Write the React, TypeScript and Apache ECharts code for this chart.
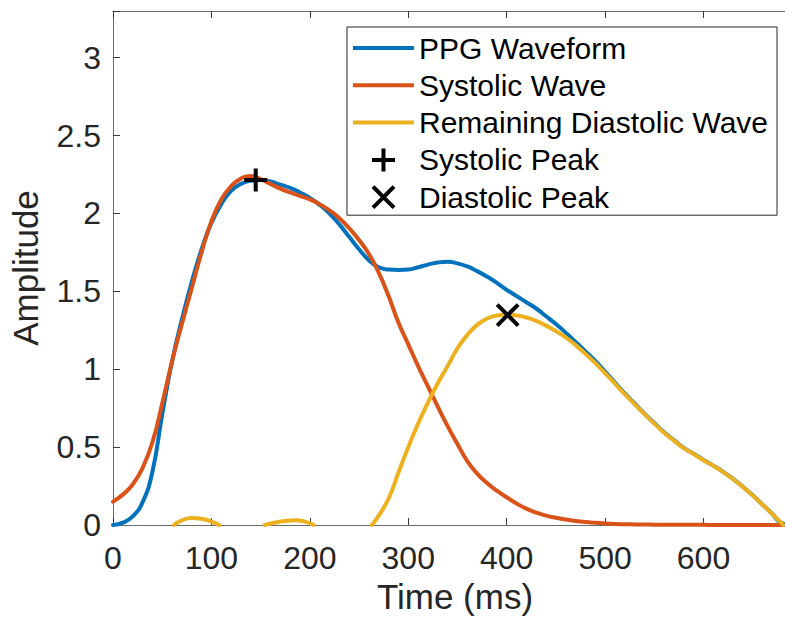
import React, { useEffect, useRef } from "react";
import * as echarts from "echarts";

// ---- data ----
const timeMs = [
  0, 10, 20, 30, 40, 50, 60, 70, 80, 90, 100, 110, 120, 130, 140, 150, 160, 170, 180, 190,
  200, 210, 220, 230, 240, 250, 260, 270, 280, 290, 300, 310, 320, 330, 340, 350, 360, 370, 380, 390,
  400, 410, 420, 430, 440, 450, 460, 470, 480, 490, 500, 510, 520, 530, 540, 550, 560, 570, 580, 590,
  600, 610, 620, 630, 640, 650, 660, 670, 680, 690, 700,
];

const ppgWaveform = [
  0.0, 0.015, 0.055, 0.145, 0.34, 0.71, 1.05, 1.32, 1.56, 1.77, 1.94, 2.06, 2.145, 2.19, 2.21, 2.215, 2.205, 2.185, 2.165, 2.135,
  2.1, 2.055, 2.0, 1.93, 1.85, 1.77, 1.7, 1.655, 1.64, 1.637, 1.64, 1.655, 1.672, 1.685, 1.69, 1.68, 1.66, 1.63, 1.595, 1.555,
  1.51, 1.47, 1.43, 1.39, 1.34, 1.29, 1.235, 1.175, 1.115, 1.053, 0.985, 0.915, 0.845, 0.78, 0.715, 0.655, 0.595, 0.545, 0.495, 0.458,
  0.418, 0.381, 0.341, 0.296, 0.246, 0.191, 0.131, 0.071, 0.01, 0.0, 0.0,
];

const systolicWave = [
  0.15, 0.195, 0.26, 0.365, 0.53, 0.78, 1.05, 1.29, 1.52, 1.75, 1.95, 2.09, 2.175, 2.225, 2.24, 2.22, 2.19, 2.16, 2.135, 2.113,
  2.09, 2.06, 2.02, 1.97, 1.905, 1.83, 1.74, 1.62, 1.47, 1.3, 1.16, 1.02, 0.89, 0.76, 0.635, 0.52, 0.41, 0.33, 0.27, 0.22,
  0.178, 0.138, 0.105, 0.08, 0.06, 0.046, 0.035, 0.026, 0.019, 0.014, 0.01, 0.007, 0.005, 0.004, 0.003, 0.002, 0.002, 0.001, 0.001, 0.001,
  0.001, 0, 0, 0, 0, 0, 0, 0, 0, 0, 0,
];

// remaining diastolic wave: only the parts >= 0 are visible (three pieces)
const diastolicTime1 = [62, 70, 80, 90, 100, 108];
const diastolicValue1 = [0, 0.03, 0.045, 0.04, 0.022, 0];
const diastolicTime2 = [154, 165, 175, 185, 195, 204];
const diastolicValue2 = [0, 0.016, 0.026, 0.03, 0.022, 0];
const diastolicTime3 = [
  263, 270, 280, 290, 300, 310, 320, 330, 340, 350, 360, 370, 380, 390, 400, 410, 420, 430, 440, 450,
  460, 470, 480, 490, 500, 510, 520, 530, 540, 550, 560, 570, 580, 590, 600, 610, 620, 630, 640, 650,
  660, 670, 681,
];
const diastolicValue3 = [
  0, 0.06, 0.17, 0.335, 0.5, 0.65, 0.785, 0.91, 1.02, 1.135, 1.22, 1.285, 1.325, 1.345, 1.35, 1.345, 1.332, 1.31, 1.28, 1.245,
  1.205, 1.155, 1.1, 1.04, 0.975, 0.908, 0.84, 0.776, 0.712, 0.652, 0.592, 0.542, 0.493, 0.456, 0.416, 0.38, 0.34, 0.295, 0.245, 0.19,
  0.13, 0.07, 0,
];

const systolicPeak = [145, 2.215];
const diastolicPeak = [401, 1.348];

const seriesNames = [
  "PPG Waveform",
  "Systolic Wave",
  "Remaining Diastolic Wave",
  "Systolic Peak",
  "Diastolic Peak",
];
const seriesColors = ["#0072BD", "#D95319", "#EDB120", "#000000", "#000000"];

const xMin = 0;
const xMax = 695;
const xInterval = 100;
const yMin = 0;
const yMax = 3.3;
const yInterval = 0.5;

const FONT = "'Liberation Sans', Arial, Helvetica, sans-serif";

// marker shapes (30x30 frame, padded via move-to corners)
const PLUS_PATH =
  "path://M0,0 M30,30 M13,3.5 H17 V13 H26.5 V17 H17 V26.5 H13 V17 H3.5 V13 H13 Z";
const CROSS_PATH =
  "path://M0,0 M30,30 M5.91,3.09 L15,12.17 L24.09,3.09 L26.91,5.91 L17.83,15 L26.91,24.09 L24.09,26.91 L15,17.83 L5.91,26.91 L3.09,24.09 L12.17,15 L3.09,5.91 Z";
// legend line sample (61x30 frame)
const LINE_ICON = "path://M0,0 M61,30 M0,13 H61 V17 H0 Z";

function pairs(xs: number[], ys: number[]) {
  return xs.map((x, i) => [x, ys[i]]);
}

export default function App() {
  const ref = useRef<HTMLDivElement>(null);

  useEffect(() => {
    if (!ref.current) return;
    const chart = echarts.init(ref.current, undefined, { renderer: "svg" });

    const diastolicData: any[] = [
      ...pairs(diastolicTime1, diastolicValue1),
      [diastolicTime1[diastolicTime1.length - 1] + 1, null],
      ...pairs(diastolicTime2, diastolicValue2),
      [diastolicTime2[diastolicTime2.length - 1] + 1, null],
      ...pairs(diastolicTime3, diastolicValue3),
    ];

    const axisLineStyle = { color: "#6a6a6a", width: 1 };
    const tickStyle = { color: "#3a3a3a", width: 1 };

    const lineSeries = (i: number, data: any[], z: number) => ({
      name: seriesNames[i],
      type: "line",
      data,
      symbol: "none",
      showSymbol: false,
      connectNulls: false,
      smooth: 0.5,
      clip: true,
      lineStyle: { color: seriesColors[i], width: 4, cap: "round", join: "round" },
      itemStyle: { color: seriesColors[i] },
      z,
    });

    const option: any = {
      animation: false,
      backgroundColor: "#ffffff",
      textStyle: { fontFamily: FONT },
      grid: { left: 112, right: 3, top: 11, bottom: 97, containLabel: false },
      legend: {
        orient: "vertical",
        right: 23,
        top: 27,
        itemWidth: 61,
        itemHeight: 30,
        itemGap: 7.3,
        padding: [6, 9, 3, 6],
        backgroundColor: "#ffffff",
        borderColor: "#262626",
        borderWidth: 1,
        borderRadius: 0,
        selectedMode: false,
        textStyle: { fontSize: 30, color: "#000000", fontFamily: FONT, lineHeight: 30 },
        data: [
          { name: seriesNames[0], icon: LINE_ICON },
          { name: seriesNames[1], icon: LINE_ICON },
          { name: seriesNames[2], icon: LINE_ICON },
          { name: seriesNames[3], icon: PLUS_PATH },
          { name: seriesNames[4], icon: CROSS_PATH },
        ],
      },
      xAxis: [
        {
          type: "value",
          position: "bottom",
          min: xMin,
          max: xMax,
          interval: xInterval,
          axisLine: { show: true, onZero: false, lineStyle: axisLineStyle },
          axisTick: { show: true, inside: true, length: 7, lineStyle: tickStyle },
          axisLabel: {
            fontSize: 32,
            color: "#262626",
            fontFamily: FONT,
            margin: 17,
            formatter: (v: number) => (v > 690 ? "" : String(v)),
          },
          splitLine: { show: false },
          name: "Time (ms)",
          nameLocation: "middle",
          nameGap: 40,
          nameTextStyle: { fontSize: 35, color: "#262626", fontFamily: FONT },
        },
        {
          type: "value",
          position: "top",
          min: xMin,
          max: xMax,
          interval: xInterval,
          axisLine: { show: true, onZero: false, lineStyle: axisLineStyle },
          axisTick: { show: true, inside: true, length: 7, lineStyle: tickStyle },
          axisLabel: { show: false },
          splitLine: { show: false },
        },
      ],
      yAxis: [
        {
          type: "value",
          position: "left",
          min: yMin,
          max: yMax,
          interval: yInterval,
          axisLine: { show: true, onZero: false, lineStyle: axisLineStyle },
          axisTick: { show: true, inside: true, length: 7, lineStyle: tickStyle },
          axisLabel: {
            fontSize: 32,
            color: "#262626",
            fontFamily: FONT,
            margin: 12,
            formatter: (v: number) => (v > 3.01 ? "" : String(v)),
          },
          splitLine: { show: false },
          name: "Amplitude",
          nameLocation: "middle",
          nameGap: 70,
          nameTextStyle: { fontSize: 35, color: "#262626", fontFamily: FONT },
        },
        {
          type: "value",
          position: "right",
          min: yMin,
          max: yMax,
          interval: yInterval,
          axisLine: { show: true, onZero: false, lineStyle: axisLineStyle },
          axisTick: { show: true, inside: true, length: 7, lineStyle: tickStyle },
          axisLabel: { show: false },
          splitLine: { show: false },
        },
      ],
      series: [
        lineSeries(0, pairs(timeMs, ppgWaveform), 2),
        lineSeries(1, pairs(timeMs, systolicWave), 3),
        lineSeries(2, diastolicData, 4),
        {
          name: seriesNames[3],
          type: "scatter",
          data: [systolicPeak],
          symbol: PLUS_PATH,
          symbolSize: 30,
          itemStyle: { color: seriesColors[3], opacity: 1 },
          z: 10,
        },
        {
          name: seriesNames[4],
          type: "scatter",
          data: [diastolicPeak],
          symbol: CROSS_PATH,
          symbolSize: 30,
          itemStyle: { color: seriesColors[4], opacity: 1 },
          z: 10,
        },
      ],
    };

    chart.setOption(option);
    return () => chart.dispose();
  }, []);

  return (
    <div
      style={{
        position: "fixed",
        left: 0,
        top: 0,
        width: 785,
        height: 622,
        overflow: "hidden",
        background: "#fff",
      }}
    >
      <div ref={ref} style={{ width: 800, height: 622 }} />
    </div>
  );
}
